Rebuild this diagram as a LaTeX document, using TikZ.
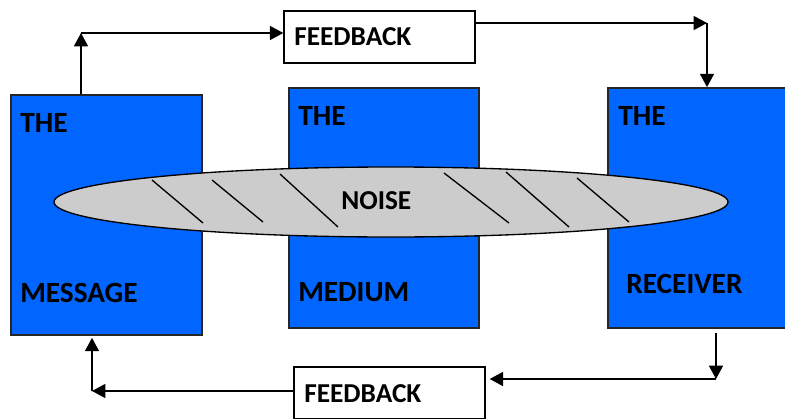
\documentclass[tikz,border=0pt]{standalone}
\usepackage{fontspec}
\setmainfont{Carlito}
\usetikzlibrary{arrows.meta,shapes.geometric}
\definecolor{boxblue}{HTML}{0066FF}
\definecolor{noisegray}{HTML}{CCCCCC}
\begin{document}
\begin{tikzpicture}[x=0.75pt,y=-0.75pt,
    stage/.style={draw=black!85,line width=1.3pt,fill=boxblue,minimum width=143pt,minimum height=180pt,inner sep=0pt},
    fb/.style={draw,line width=1.3pt,fill=white,minimum width=143pt,minimum height=39pt,inner sep=0pt},
    lbl/.style={inner sep=0pt,anchor=base west,font=\fontsize{22}{24}\selectfont\bfseries},
    fblbl/.style={inner sep=0pt,anchor=base west,font=\fontsize{20.5}{22}\selectfont\bfseries},
    arr/.style={line width=1.1pt,-{Triangle[length=10pt,width=10.5pt]}}]
\clip (0,0) rectangle (785,418);
\node[stage] (msg) at (106.5,215) {};
\node[stage] (med) at (384,208) {};
\node[stage] (rcv) at (703,208) {};
\node[fb] (fbtop) at (379.5,37) {};
\node[fb] (fbbot) at (389.5,393) {};
% noise band across the three boxes
\node[ellipse,draw,line width=1pt,fill=noisegray,minimum width=505.5pt,minimum height=52.5pt,inner sep=0pt] (noise) at (391,202) {};
\foreach \a/\b/\c/\d in {152/180/203/223,212/180/263/222,280/174/338/227,444/173/509/223,506/172/569/227,577/178/629/222}
    \draw[line width=1pt] (\a,\b) -- (\c,\d);
\node[lbl] (msgtop) at (20,132) {THE};
\node[lbl] (msgbot) at (20,302) {MESSAGE};
\node[lbl] (medtop) at (298,125) {THE};
\node[lbl] (medbot) at (298,301) {MEDIUM};
\node[lbl] (rcvtop) at (618,125) {THE};
\node[lbl] (rcvbot) at (626,293) {RECEIVER};
\node[fblbl] (fbtoplbl) at (294,45) {FEEDBACK};
\node[fblbl] (fbbotlbl) at (304,402) {FEEDBACK};
\node[fblbl] (noiselbl) at (341,209) {NOISE};
% feedback loops
\coordinate (up) at (81,33);
\coordinate (rt) at (707,23);
\coordinate (dn) at (716,379);
\coordinate (lf) at (92,391);
\draw[arr] (msg.north -| up) -- (up);
\draw[arr] (up) -- (up -| fbtop.west);
\draw[arr] (fbtop.east |- rt) -- (rt);
\draw[arr] (rt) -- (rt |- rcv.north);
\draw[arr] ([yshift=-3pt]rcv.south -| dn) -- (dn);
\draw[arr] (dn) -- ([xshift=3pt]dn -| fbbot.east);
\draw[arr] (fbbot.west |- lf) -- (lf);
\draw[arr] (lf) -- ([yshift=-1.5pt]lf |- msg.south);
\end{tikzpicture}
\end{document}
